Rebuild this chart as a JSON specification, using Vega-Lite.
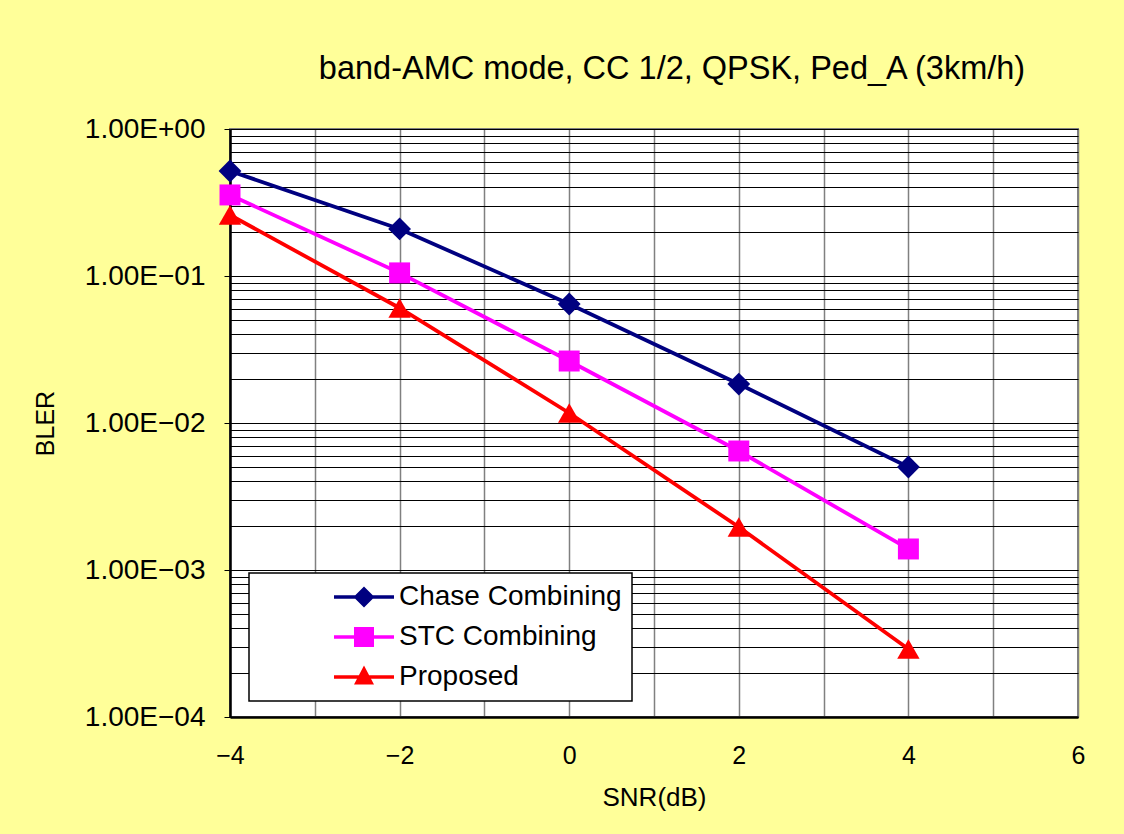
{
  "$schema": "https://vega.github.io/schema/vega-lite/v6.json",
  "width": 848,
  "height": 588,
  "autosize": "none",
  "padding": {"left": 230, "top": 129, "right": 46, "bottom": 117},
  "background": "#FFFF99",
  "title": {
    "text": "band-AMC mode, CC 1/2, QPSK, Ped_A (3km/h)",
    "fontSize": 32.5,
    "font": "Liberation Sans",
    "fontWeight": "normal",
    "anchor": "middle",
    "dx": 18,
    "offset": 30,
    "color": "#000000"
  },
  "config": {
    "view": {"fill": "white", "stroke": "#808080", "strokeWidth": 2},
    "font": "Liberation Sans"
  },
  "data": {
    "values": [
      {"snr": -4, "bler": 0.518, "scheme": "Chase Combining"},
      {"snr": -2, "bler": 0.209, "scheme": "Chase Combining"},
      {"snr": 0, "bler": 0.0645, "scheme": "Chase Combining"},
      {"snr": 2, "bler": 0.0184, "scheme": "Chase Combining"},
      {"snr": 4, "bler": 0.00502, "scheme": "Chase Combining"},
      {"snr": -4, "bler": 0.356, "scheme": "STC Combining"},
      {"snr": -2, "bler": 0.105, "scheme": "STC Combining"},
      {"snr": 0, "bler": 0.0264, "scheme": "STC Combining"},
      {"snr": 2, "bler": 0.00645, "scheme": "STC Combining"},
      {"snr": 4, "bler": 0.00139, "scheme": "STC Combining"},
      {"snr": -4, "bler": 0.26, "scheme": "Proposed"},
      {"snr": -2, "bler": 0.0606, "scheme": "Proposed"},
      {"snr": 0, "bler": 0.0117, "scheme": "Proposed"},
      {"snr": 2, "bler": 0.00196, "scheme": "Proposed"},
      {"snr": 4, "bler": 0.00029, "scheme": "Proposed"}
    ]
  },
  "encoding": {
    "x": {
      "field": "snr",
      "type": "quantitative",
      "scale": {"domain": [-4, 6], "nice": false, "zero": false},
      "axis": {
        "values": [-4, -3, -2, -1, 0, 1, 2, 3, 4, 5, 6],
        "labelExpr": "datum.value % 2 === 0 ? datum.label : ''",
        "grid": true,
        "gridColor": "#808080",
        "gridWidth": 1.5,
        "gridOpacity": 1,
        "ticks": false,
        "domainColor": "#000000",
        "domainWidth": 2.5,
        "labelFontSize": 25,
        "labelColor": "#000000",
        "labelPadding": 26,
        "labelOverlap": false,
        "labelFlush": false,
        "title": "SNR(dB)",
        "titleFontSize": 26,
        "titleFontWeight": "normal",
        "titleColor": "#000000",
        "titlePadding": 16
      }
    },
    "y": {
      "field": "bler",
      "type": "quantitative",
      "scale": {"type": "log", "domain": [0.0001, 1], "nice": false},
      "axis": {
        "values": [0.0001, 0.0002, 0.0003, 0.0004, 0.0005, 0.0006, 0.0007, 0.0008, 0.0009, 0.001, 0.002, 0.003, 0.004, 0.005, 0.006, 0.007, 0.008, 0.009, 0.01, 0.02, 0.03, 0.04, 0.05, 0.06, 0.07, 0.08, 0.09, 0.1, 0.2, 0.3, 0.4, 0.5, 0.6, 0.7, 0.8, 0.9, 1],
        "labelExpr": "indexof([1, 0.1, 0.01, 0.001, 0.0001], datum.value) >= 0 ? ['1.00E+00', '1.00E−01', '1.00E−02', '1.00E−03', '1.00E−04'][indexof([1, 0.1, 0.01, 0.001, 0.0001], datum.value)] : ''",
        "grid": true,
        "gridColor": "#000000",
        "gridWidth": 1,
        "gridOpacity": 1,
        "ticks": true,
        "tickSize": 6,
        "tickColor": "#000000",
        "tickOpacity": {"condition": {"test": "indexof([1, 0.1, 0.01, 0.001, 0.0001], datum.value) >= 0", "value": 1}, "value": 0},
        "domainColor": "#000000",
        "domainWidth": 2.5,
        "labelFontSize": 28,
        "labelColor": "#000000",
        "labelPadding": 19,
        "labelOverlap": false,
        "labelFlush": false,
        "labelBound": false,
        "title": "BLER",
        "titleFontSize": 25,
        "titleFontWeight": "normal",
        "titleColor": "#000000",
        "titlePadding": 26
      }
    },
    "color": {
      "field": "scheme",
      "type": "nominal",
      "scale": {"domain": ["Chase Combining", "STC Combining", "Proposed"], "range": ["#000080", "#FF00FF", "#FF0000"]},
      "legend": {
        "orient": "none",
        "legendX": 19,
        "legendY": 444,
        "title": null,
        "padding": 10,
        "strokeColor": "#000000",
        "fillColor": "#FFFFFF",
        "symbolOffset": 91,
        "labelOffset": 21,
        "labelFontSize": 28,
        "labelColor": "#000000",
        "labelLimit": 1000,
        "labelExpr": "datum.label + '\u00a0\u00a0\u00a0\u00a0\u00a0\u00a0\u00a0\u00a0\u00a0\u00a0\u00a0\u00a0\u00a0\u00a0\u00a0\u00a0\u00a0\u00a0\u00a0\u00a0\u00a0\u00a0\u00a0\u00a0'",
        "rowPadding": 12,
        "symbolSize": 400,
        "symbolStrokeWidth": 0,
        "encode": {
          "legend": {
            "update": {"strokeWidth": {"value": 1.5}}
          },
          "symbols": {
            "update": {
              "shape": {"signal": "datum.value === 'Chase Combining' ? 'M-3,-0.17H3V0.17H-3Z M0,-1.05L1.05,0L0,1.05L-1.05,0Z' : datum.value === 'STC Combining' ? 'M-3,-0.17H3V0.17H-3Z M-1,-1H1V1H-1Z' : 'M-3,-0.17H3V0.17H-3Z M0,-1.15L1,0.75L-1,0.75Z'"},
              "fill": {"scale": "color", "field": "value"},
              "size": {"value": 400},
              "strokeWidth": {"value": 0},
              "opacity": {"value": 1}
            }
          }
        }
      }
    }
  },
  "layer": [
    {"mark": {"type": "line", "strokeWidth": 3.8, "clip": false}},
    {
      "transform": [{"filter": "datum.scheme === 'Chase Combining'"}],
      "mark": {"type": "point", "shape": "diamond", "filled": true, "size": 520, "opacity": 1, "clip": false}
    },
    {
      "transform": [{"filter": "datum.scheme === 'STC Combining'"}],
      "mark": {"type": "point", "shape": "square", "filled": true, "size": 440, "opacity": 1, "clip": false}
    },
    {
      "transform": [{"filter": "datum.scheme === 'Proposed'"}],
      "mark": {"type": "point", "shape": "triangle-up", "filled": true, "size": 500, "opacity": 1, "clip": false}
    }
  ]
}
